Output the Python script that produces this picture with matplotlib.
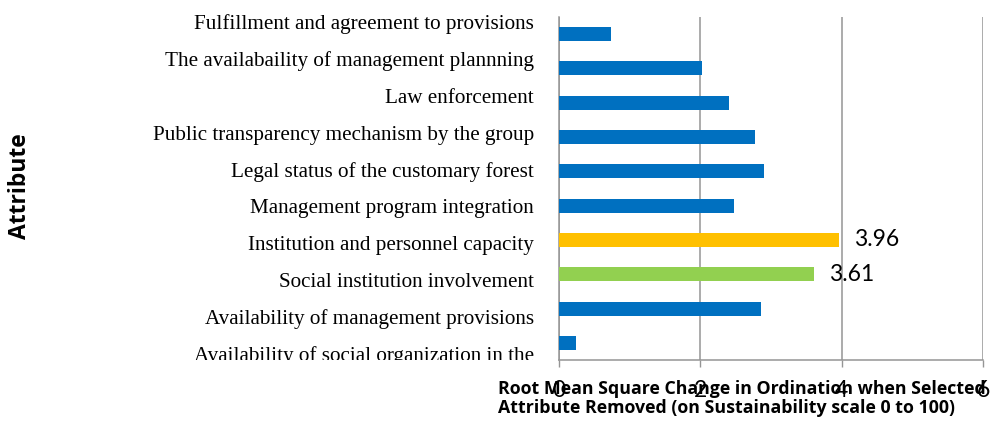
import matplotlib
matplotlib.use("Agg")
import matplotlib.pyplot as plt
from matplotlib.transforms import Bbox, TransformedBbox

# Data (top to bottom as shown in the chart)
attributes = [
    "Fulfillment and agreement to provisions",
    "The availabaility of management plannning",
    "Law enforcement",
    "Public transparency mechanism by the group",
    "Legal status of the customary forest",
    "Management program integration",
    "Institution and personnel capacity",
    "Social institution involvement",
    "Availability of management provisions",
    "Availability of social organization in the",
]
rms_values = [0.74, 2.02, 2.41, 2.77, 2.90, 2.47, 3.96, 3.61, 2.86, 0.24]
bar_colors = ["#0070C0", "#0070C0", "#0070C0", "#0070C0", "#0070C0",
              "#0070C0", "#FFC000", "#92D050", "#0070C0", "#0070C0"]
labelled = {6: "3.96", 7: "3.61"}
x_ticks = [0, 2, 4, 6]
xlabel_lines = ["Root Mean Square Change in Ordination when Selected",
                "Attribute Removed (on Sustainability scale 0 to 100)"]

W, H = 990, 424
fig = plt.figure(figsize=(W / 100, H / 100), dpi=100)
ax = fig.add_axes([559 / W, 1 - 360 / H, (983 - 559) / W, (360 - 17) / H])

grid_col = "#959595"
pos = list(range(len(attributes)))
ax.barh(pos, rms_values, height=0.41, color=bar_colors, zorder=3)
ax.set_ylim(len(attributes) - 0.5, -0.5)
ax.set_xlim(0, 6)

# value labels on the highlighted bars
for i, txt in labelled.items():
    ax.annotate(txt, (rms_values[i], i), xytext=(11, 0), textcoords="offset points",
                va="center", ha="left", fontsize=16.5, family="Lato", zorder=4)

# axes styling
ax.set_xticks(x_ticks)
ax.set_xticklabels([str(t) for t in x_ticks], fontsize=16.5, family="Lato")
ax.tick_params(axis="x", length=5, width=1, color=grid_col, pad=9.5)
ax.set_yticks([])
ax.grid(axis="x", color=grid_col, linewidth=1.1, zorder=0)
for s in ["top", "right"]:
    ax.spines[s].set_visible(False)
for s in ["left", "bottom"]:
    ax.spines[s].set_color(grid_col)
    ax.spines[s].set_linewidth(1.1)

# category labels (Times-like), the last one is clipped at the plot bottom
clip = TransformedBbox(Bbox([[0, 1 - 360 / H], [1, 1]]), fig.transFigure)
for i, name in enumerate(attributes):
    t = fig.text(534 / W, 1 - (29.3 + 36.8 * i) / H, name, ha="right", va="baseline",
                 fontsize=15.2, family="Liberation Serif")
    t.set_clip_box(clip)
    t.set_clip_on(True)

# axis titles
for k, line in enumerate(xlabel_lines):
    fig.text(498 / W, 1 - (394 + 19 * k) / H, line, ha="left", va="baseline",
             fontsize=12.8, fontweight="bold", family="Open Sans", zorder=5)
fig.text(20 / W, 1 - 186 / H, "Attribute", rotation=90, ha="center", va="center",
         fontsize=16.5, fontweight="bold", family="Open Sans")

fig.savefig("out.png", dpi=100)
